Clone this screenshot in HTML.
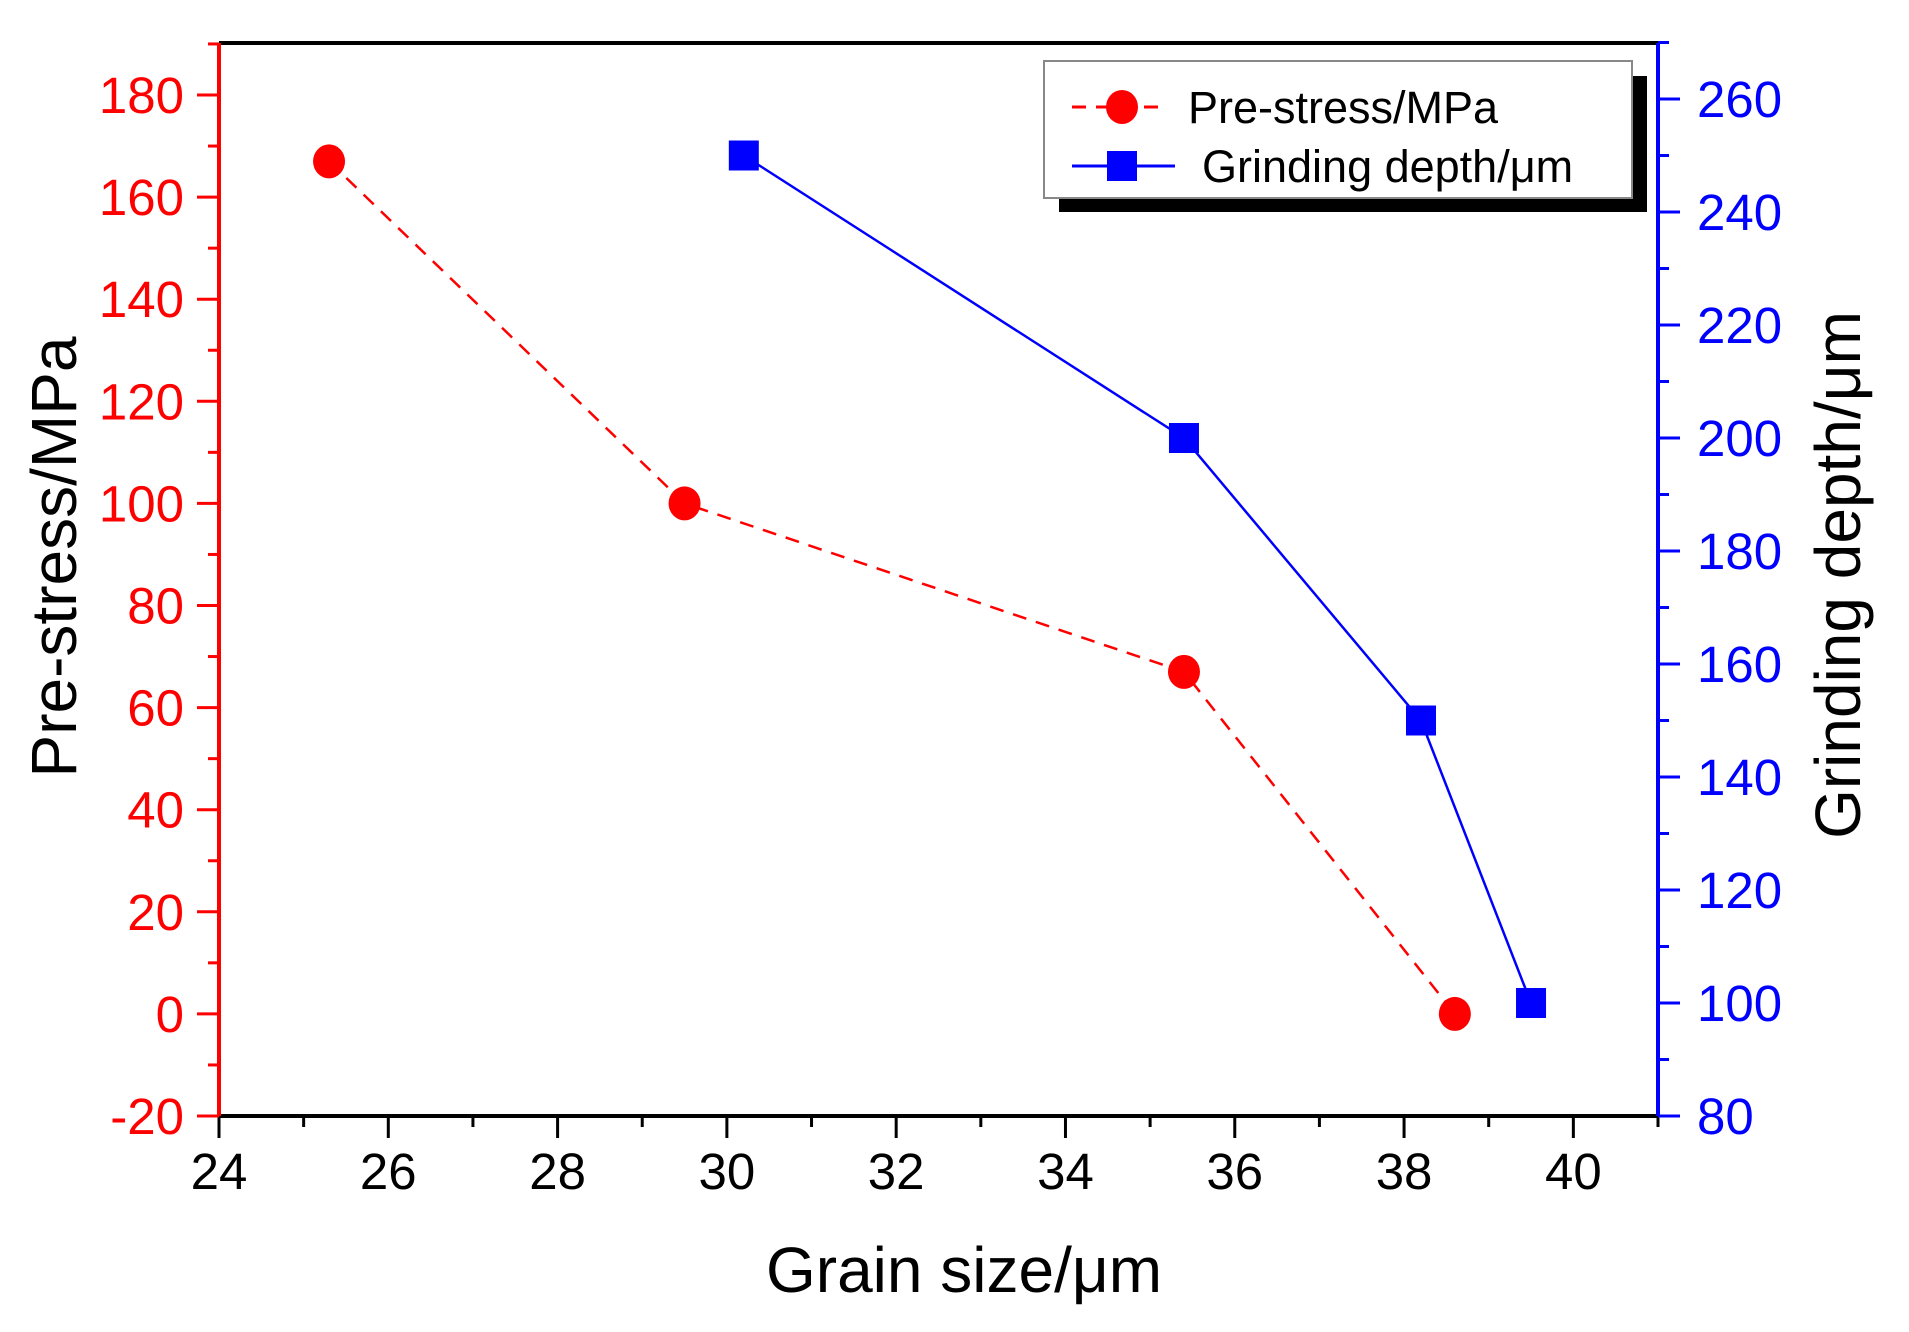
<!DOCTYPE html>
<html><head><meta charset="utf-8"><style>
html,body{margin:0;padding:0;background:#fff;}
svg{display:block;font-family:"Liberation Sans",sans-serif;}
</style></head><body>
<svg id="chart" width="1909" height="1332" viewBox="0 0 1909 1332" xmlns="http://www.w3.org/2000/svg">
<rect x="0" y="0" width="1909" height="1332" fill="#fff"/>
<g id="axes"></g>
<g id="series"></g>
<g id="legend">
  <rect x="1059" y="76" width="588" height="136" fill="#000"/>
  <rect x="1044" y="61" width="588" height="137" fill="#fff" stroke="#888" stroke-width="2"/>
  <g>
    <line x1="1072" y1="107" x2="1168" y2="107" stroke="#f00" stroke-width="3" stroke-dasharray="14,10"/>
    <ellipse cx="1122" cy="107" rx="16" ry="17" fill="#f00"/>
    <text x="1188" y="123" font-size="45" fill="#000">Pre-stress/MPa</text>
  </g>
  <g>
    <line x1="1072" y1="166" x2="1175" y2="166" stroke="#00f" stroke-width="3"/>
    <rect x="1107" y="151" width="30" height="30" fill="#00f"/>
    <text x="1202" y="182" font-size="45" fill="#000">Grinding depth/μm</text>
  </g>
</g>
<text x="964" y="1292" font-size="64" text-anchor="middle" fill="#000">Grain size/μm</text>
<text transform="translate(76,557) rotate(-90)" font-size="64" text-anchor="middle" fill="#000">Pre-stress/MPa</text>
<text transform="translate(1860,575) rotate(-90)" font-size="64" text-anchor="middle" fill="#000">Grinding depth/μm</text>
</svg>
<script>
const grainPre = [25.3, 29.5, 35.4, 38.6];
const preStress = [167, 100, 67, 0];
const grainGrind = [30.2, 35.4, 38.2, 39.5];
const grindDepth = [250, 200, 150, 100];
const xTicks = [24, 26, 28, 30, 32, 34, 36, 38, 40];
const leftTicks = [-20, 0, 20, 40, 60, 80, 100, 120, 140, 160, 180];
const rightTicks = [80, 100, 120, 140, 160, 180, 200, 220, 240, 260];

const L = 219, R = 1658, T = 43, B = 1116;
const xMin = 24, xMax = 41;
const lMin = -20, lMax = 180, lTopPix = 95;
const rMin = 80, rMax = 260, rTopPix = 99;
function xs(v){ return L + (v - xMin) / (xMax - xMin) * (R - L); }
function yl(v){ return B - (v - lMin) / (lMax - lMin) * (B - lTopPix); }
function yr(v){ return B - (v - rMin) / (rMax - rMin) * (B - rTopPix); }

const NS = "http://www.w3.org/2000/svg";
function mk(tag, attrs, parent){
  const e = document.createElementNS(NS, tag);
  for (const k in attrs) e.setAttribute(k, attrs[k]);
  parent.appendChild(e);
  return e;
}
const ax = document.getElementById('axes');
const se = document.getElementById('series');
const FS = 51;

let e;
e = mk('line', {x1:L, y1:T, x2:R, y2:T, stroke:'#000', 'stroke-width':4}, ax);


e = mk('line', {x1:L, y1:B, x2:R, y2:B, stroke:'#000', 'stroke-width':4}, ax);


e = mk('line', {x1:L, y1:T, x2:L, y2:B, stroke:'#f00', 'stroke-width':4}, ax);


e = mk('line', {x1:R, y1:T, x2:R, y2:B, stroke:'#00f', 'stroke-width':4}, ax);



for (let v = xMin; v <= xMax; v += 1) {
  const major = xTicks.includes(v);
  e = mk('line', {x1:xs(v), y1:B, x2:xs(v), y2:B + (major ? 22 : 11), stroke:'#000', 'stroke-width':3}, ax);
  
  
}
xTicks.forEach(v => {
  e = mk('text', {x:xs(v), y:1189, 'font-size':FS, 'text-anchor':'middle', fill:'#000'}, ax);
  e.textContent = v;
  
  
});
for (let v = lMin; v <= 190; v += 10) {
  const major = leftTicks.includes(v);
  e = mk('line', {x1:L, y1:yl(v), x2:L - (major ? 22 : 11), y2:yl(v), stroke:'#f00', 'stroke-width':3}, ax);
  
  
}
leftTicks.forEach(v => {
  e = mk('text', {x:184, y:yl(v) + 18, 'font-size':FS, 'text-anchor':'end', fill:'#f00'}, ax);
  e.textContent = v;
  
  
});
for (let v = rMin; v <= 270; v += 10) {
  const major = rightTicks.includes(v);
  e = mk('line', {x1:R, y1:yr(v), x2:R + (major ? 22 : 11), y2:yr(v), stroke:'#00f', 'stroke-width':3}, ax);
  
  
}
rightTicks.forEach(v => {
  e = mk('text', {x:1697, y:yr(v) + 18, 'font-size':FS, 'text-anchor':'start', fill:'#00f'}, ax);
  e.textContent = v;
  
  
});

e = mk('polyline', {points: grainPre.map((g,i)=>xs(g)+','+yl(preStress[i])).join(' '), fill:'none', stroke:'#f00', 'stroke-width':2.5, 'stroke-dasharray':'14,10'}, se);


grainPre.forEach((g,i) => {
  e = mk('ellipse', {cx:xs(g), cy:yl(preStress[i]), rx:16, ry:17, fill:'#f00'}, se);
  
  
});
e = mk('polyline', {points: grainGrind.map((g,i)=>xs(g)+','+yr(grindDepth[i])).join(' '), fill:'none', stroke:'#00f', 'stroke-width':2.5}, se);


grainGrind.forEach((g,i) => {
  e = mk('rect', {x:xs(g)-15, y:yr(grindDepth[i])-15, width:30, height:30, fill:'#00f'}, se);
  
  
});
</script>
</body></html>
